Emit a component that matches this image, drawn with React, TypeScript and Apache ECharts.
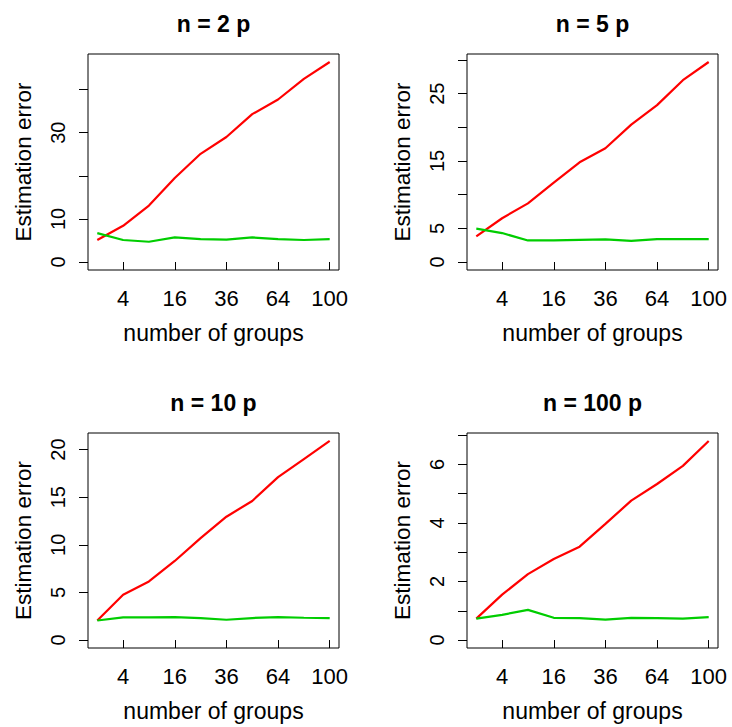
import React, { useEffect, useRef } from "react";
import * as echarts from "echarts";

// number of groups (plotted on a square-root axis)
const groups = [1, 4, 9, 16, 25, 36, 49, 64, 81, 100];
const xTickGroups = [4, 16, 36, 64, 100];

const titles = ["n = 2 p", "n = 5 p", "n = 10 p", "n = 100 p"];

const red1 = [5.1, 8.4, 13.1, 19.5, 25.1, 29.0, 34.3, 37.7, 42.5, 46.4];
const green1 = [6.7, 5.1, 4.7, 5.7, 5.3, 5.2, 5.7, 5.3, 5.1, 5.3];
const red2 = [3.8, 6.5, 8.7, 11.8, 14.8, 16.9, 20.4, 23.3, 27.0, 29.7];
const green2 = [4.95, 4.3, 3.2, 3.2, 3.3, 3.35, 3.15, 3.4, 3.4, 3.4];
const red3 = [2.05, 4.75, 6.15, 8.3, 10.7, 12.95, 14.6, 17.1, 19.0, 20.9];
const green3 = [2.05, 2.38, 2.38, 2.41, 2.31, 2.13, 2.31, 2.41, 2.34, 2.31];
const red4 = [0.73, 1.55, 2.25, 2.77, 3.19, 3.97, 4.76, 5.33, 5.95, 6.8];
const green4 = [0.73, 0.86, 1.03, 0.76, 0.75, 0.7, 0.76, 0.75, 0.73, 0.78];

const yTicks1 = [0, 10, 20, 30, 40];
const yLabels1 = [0, 10, 30];
const yTicks2 = [0, 5, 10, 15, 20, 25, 30];
const yLabels2 = [0, 5, 15, 25];
const yTicks3 = [0, 5, 10, 15, 20];
const yLabels3 = [0, 5, 10, 15, 20];
const yTicks4 = [0, 1, 2, 3, 4, 5, 6, 7];
const yLabels4 = [0, 2, 4, 6];

const panels = [
  { red: red1, green: green1, ticks: yTicks1, labels: yLabels1 },
  { red: red2, green: green2, ticks: yTicks2, labels: yLabels2 },
  { red: red3, green: green3, ticks: yTicks3, labels: yLabels3 },
  { red: red4, green: green4, ticks: yTicks4, labels: yLabels4 },
];

const gridBoxes = [
  { left: 88, top: 54, width: 251, height: 216 },
  { left: 467, top: 54, width: 251, height: 216 },
  { left: 88, top: 433, width: 251, height: 215 },
  { left: 467, top: 433, width: 251, height: 215 },
];

const FONT = "'Liberation Sans', Arial, Helvetica, sans-serif";

export default function App() {
  const ref = useRef<HTMLDivElement>(null);

  useEffect(() => {
    if (!ref.current) return;
    const chart = echarts.init(ref.current, undefined, { renderer: "svg" });

    const kMin = 1;
    const kMax = 10;
    const kPad = (kMax - kMin) * 0.04;

    const option: any = {
      animation: false,
      backgroundColor: "#ffffff",
      textStyle: { fontFamily: FONT, color: "#000" },
      title: titles.map((t, i) => ({
        text: t,
        left: gridBoxes[i].left + gridBoxes[i].width / 2,
        top: i < 2 ? 12.5 : 391.5,
        textAlign: "center",
        padding: 0,
        textStyle: {
          fontFamily: FONT,
          fontSize: 23,
          fontWeight: "bold",
          color: "#000",
        },
      })),
      grid: gridBoxes.map((g) => ({
        ...g,
        show: true,
        borderColor: "#000",
        borderWidth: 1,
        backgroundColor: "transparent",
        containLabel: false,
      })),
      xAxis: gridBoxes.map((_, i) => ({
        type: "value",
        gridIndex: i,
        min: kMin - kPad,
        max: kMax + kPad,
        axisLine: { show: false },
        splitLine: { show: false },
        axisTick: {
          show: true,
          inside: false,
          length: 8,
          customValues: xTickGroups.map((g) => Math.sqrt(g)),
          lineStyle: { color: "#000", width: 1 },
        },
        axisLabel: {
          show: true,
          customValues: xTickGroups.map((g) => Math.sqrt(g)),
          formatter: (v: number) => String(Math.round(v * v)),
          margin: 17,
          fontSize: 22,
          fontFamily: FONT,
          color: "#000",
        },
        name: "number of groups",
        nameLocation: "middle",
        nameGap: 51,
        nameTextStyle: { fontSize: 23, fontFamily: FONT, color: "#000" },
      })),
      yAxis: panels.map((p, i) => {
        const top = Math.max(...p.red, ...p.green);
        return {
          type: "value",
          gridIndex: i,
          min: -0.04 * top,
          max: 1.04 * top,
          axisLine: { show: false },
          splitLine: { show: false },
          axisTick: {
            show: true,
            inside: false,
            length: 9,
            customValues: p.ticks,
            lineStyle: { color: "#000", width: 1 },
          },
          axisLabel: {
            show: true,
            customValues: p.labels,
            rotate: 90,
            margin: 20,
            fontSize: 20,
            fontFamily: FONT,
            color: "#000",
          },
          name: "Estimation error",
          nameLocation: "middle",
          nameRotate: 90,
          nameGap: 53,
          nameTextStyle: { fontSize: 22.5, fontFamily: FONT, color: "#000" },
        };
      }),
      series: panels.flatMap((p, i) => [
        {
          type: "line",
          xAxisIndex: i,
          yAxisIndex: i,
          symbol: "none",
          showSymbol: false,
          data: groups.map((g, j) => [Math.sqrt(g), p.red[j]]),
          lineStyle: { color: "#FF0000", width: 2.2 },
          itemStyle: { color: "#FF0000" },
        },
        {
          type: "line",
          xAxisIndex: i,
          yAxisIndex: i,
          symbol: "none",
          showSymbol: false,
          data: groups.map((g, j) => [Math.sqrt(g), p.green[j]]),
          lineStyle: { color: "#00CD00", width: 2.2 },
          itemStyle: { color: "#00CD00" },
        },
      ]),
    };

    chart.setOption(option);
    return () => chart.dispose();
  }, []);

  return (
    <div
      ref={ref}
      style={{ position: "absolute", left: 0, top: 0, width: 732, height: 727 }}
    />
  );
}
